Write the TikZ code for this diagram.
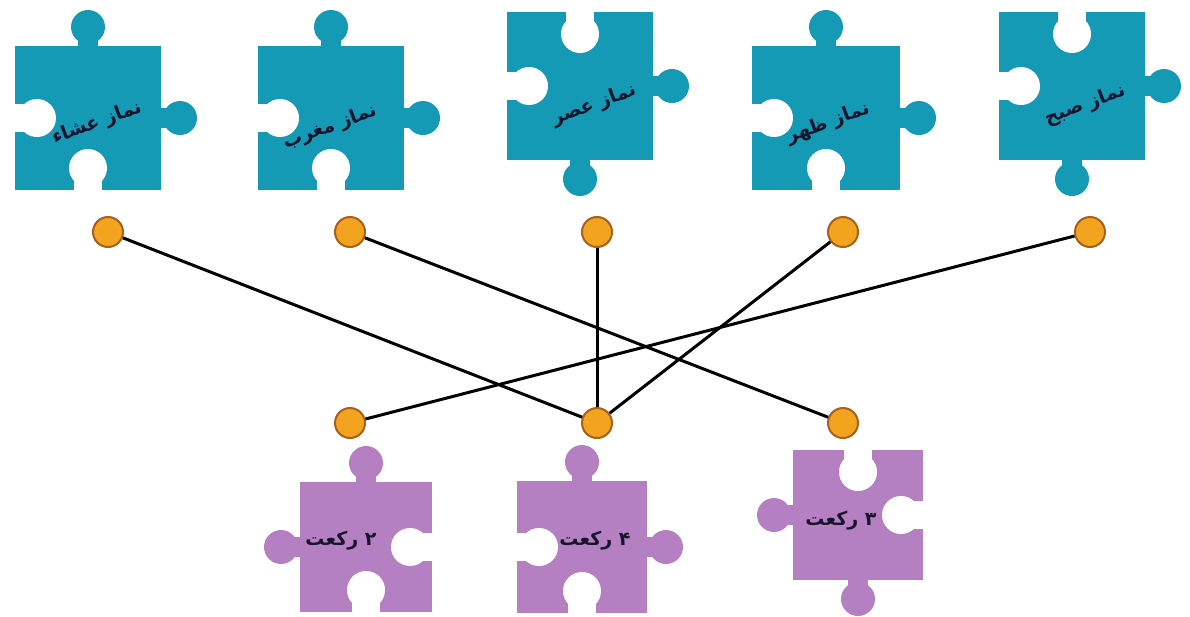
\documentclass[tikz,border=0pt]{standalone}
\usepackage{fontspec}
\newfontfamily\arabicfont[Script=Arabic]{DejaVu Sans}
\TeXXeTstate=1
\definecolor{tealp}{RGB}{20,154,180}
\definecolor{purp}{RGB}{181,128,193}
\definecolor{dotfill}{RGB}{242,164,30}
\definecolor{dotline}{RGB}{170,95,30}
\definecolor{txtc}{RGB}{25,20,45}
% #1 cx, #2 cy, #3 half width, #4 half height, #5 top, #6 right, #7 bottom, #8 left (1 knob, -1 notch), #9 colour
\newcommand\jig[9]{%
 \begin{scope}[shift={(#1,#2)}]
  \fill[#9] ({-#3},{-#4}) rectangle (#3,#4);
  \ifnum#5=1 \fill[#9] (-10,{-#4+1}) rectangle (10,{-#4-19}); \fill[#9] (0,{-#4-19}) circle (17pt);\fi
  \ifnum#5=-1 \fill[white] (-14,{-#4-1}) rectangle (14,{-#4+22}); \fill[white] (0,{-#4+22}) circle (19pt);\fi
  \ifnum#6=1 \fill[#9] ({#3-1},-10) rectangle ({#3+19},10); \fill[#9] ({#3+19},0) circle (17pt);\fi
  \ifnum#6=-1 \fill[white] ({#3+1},-14) rectangle ({#3-22},14); \fill[white] ({#3-22},0) circle (19pt);\fi
  \ifnum#7=1 \fill[#9] (-10,{#4-1}) rectangle (10,{#4+19}); \fill[#9] (0,{#4+19}) circle (17pt);\fi
  \ifnum#7=-1 \fill[white] (-14,{#4+1}) rectangle (14,{#4-22}); \fill[white] (0,{#4-22}) circle (19pt);\fi
  \ifnum#8=1 \fill[#9] ({-#3+1},-10) rectangle ({-#3-19},10); \fill[#9] ({-#3-19},0) circle (17pt);\fi
  \ifnum#8=-1 \fill[white] ({-#3-1},-14) rectangle ({-#3+22},14); \fill[white] ({-#3+22},0) circle (19pt);\fi
 \end{scope}}
\tikzset{
  dot/.style={circle, fill=dotfill, draw=dotline, line width=2pt, minimum size=30pt, inner sep=0pt},
  link/.style={draw=black, line width=3pt},
  ptxt/.style={text=txtc, font=\arabicfont\bfseries\fontsize{19}{22}\selectfont, inner sep=0pt, rotate=20},
  btxt/.style={text=txtc, font=\arabicfont\bfseries\fontsize{19}{22}\selectfont, inner sep=0pt}
}
\begin{document}
\begin{tikzpicture}[x=1pt,y=-1pt]
\useasboundingbox (0,0) rectangle (1190,616);
% top pieces
\jig{88}{118}{73}{72}{1}{1}{-1}{-1}{tealp}
\jig{331}{118}{73}{72}{1}{1}{-1}{-1}{tealp}
\jig{580}{86}{73}{74}{-1}{1}{1}{-1}{tealp}
\jig{826}{118}{74}{72}{1}{1}{-1}{-1}{tealp}
\jig{1072}{86}{73}{74}{-1}{1}{1}{-1}{tealp}
% bottom pieces
\jig{366}{547}{66}{65}{1}{-1}{-1}{1}{purp}
\jig{582}{547}{65}{66}{1}{1}{-1}{-1}{purp}
\jig{858}{515}{65}{65}{-1}{-1}{1}{1}{purp}
% labels
\node[ptxt] (l1) at (97,123) {\beginR نماز عشاء\endR};
\node[ptxt] (l2) at (330,127) {\beginR نماز مغرب\endR};
\node[ptxt] (l3) at (594,105) {\beginR نماز عصر\endR};
\node[ptxt] (l4) at (828,123) {\beginR نماز ظهر\endR};
\node[ptxt] (l5) at (1085,105) {\beginR نماز صبح\endR};
\node[btxt] (r1) at (341,541) {\beginR ۲ رکعت\endR};
\node[btxt] (r2) at (595,541) {\beginR ۴ رکعت\endR};
\node[btxt] (r3) at (841,521) {\beginR ۳ رکعت\endR};
% dots
\node[dot] (d1) at (108,232) {};
\node[dot] (d2) at (350,232) {};
\node[dot] (d3) at (597,232) {};
\node[dot] (d4) at (843,232) {};
\node[dot] (d5) at (1090,232) {};
\node[dot] (e1) at (350,423) {};
\node[dot] (e2) at (597,423) {};
\node[dot] (e3) at (843,423) {};
% links
\draw[link] (d1) -- (e2);
\draw[link] (d2) -- (e3);
\draw[link] (d3) -- (e2);
\draw[link] (d4) -- (e2);
\draw[link] (d5) -- (e1);
\end{tikzpicture}
\end{document}
